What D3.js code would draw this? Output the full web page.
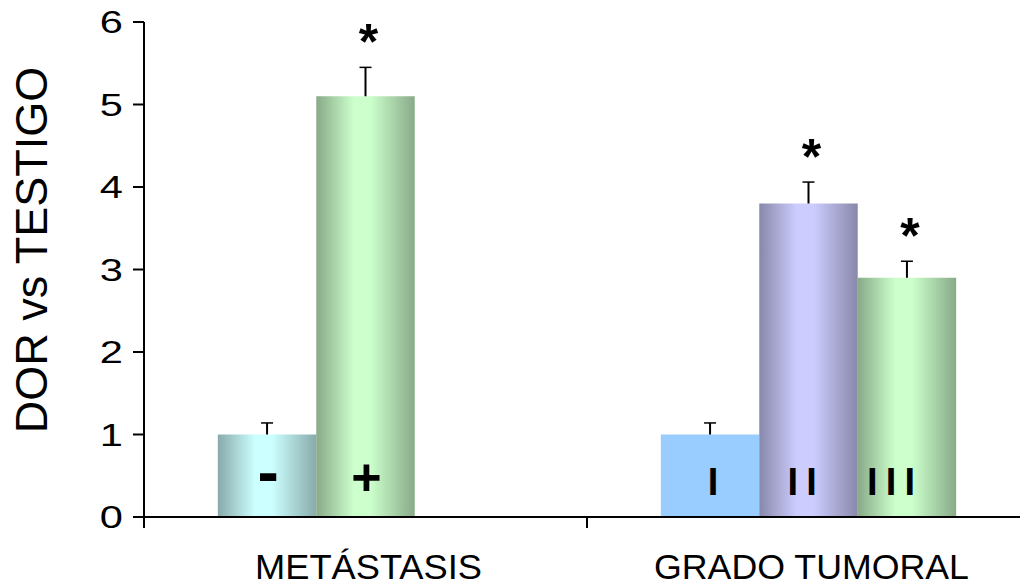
<!DOCTYPE html>
<html><head><meta charset="utf-8">
<script src="https://cdn.jsdelivr.net/npm/d3@7"></script>
<style>body{margin:0;background:#fff}svg{display:block}</style>
</head><body>
<svg id="c" width="1020" height="588"></svg>
<script>
// ---- data ----
const categories = ["METÁSTASIS", "GRADO TUMORAL"];
const slots = ["s1", "s2", "s3"];
const barCategory = ["METÁSTASIS", "METÁSTASIS", "GRADO TUMORAL", "GRADO TUMORAL", "GRADO TUMORAL"];
const barSlot = ["s1", "s2", "s1", "s2", "s3"];
const barLabels = ["-", "+", "I", "II", "III"];
const barValues = [1.0, 5.1, 1.0, 3.8, 2.9];
const barErrors = [0.14, 0.35, 0.14, 0.26, 0.2];
const barSignificant = [false, true, false, true, true];
const barFill = ["cyan", "green", "flat", "lavender", "green"];
const yTicks = [0, 1, 2, 3, 4, 5, 6];
const yTitle = "DOR vs TESTIGO";

const svg = d3.select("#c");
const x0 = d3.scaleBand().domain(categories).range([144, 1030]).paddingInner(0).paddingOuter(0);
const x1 = d3.scaleBand().domain(slots).range([0, x0.bandwidth()]).paddingInner(0).paddingOuter(0.75);
const y = d3.scaleLinear().domain([0, 6]).range([517, 22]);
const FONT = "Liberation Sans, Arial, sans-serif";

// gradients
const defs = svg.append("defs");
const grads = {
  cyan: ["#88aaaa", "#ccffff"],
  green: ["#88aa88", "#ccffcc"],
  lavender: ["#8888aa", "#ccccff"]
};
Object.entries(grads).forEach(([k, [dark, light]]) => {
  const g = defs.append("linearGradient").attr("id", "g-" + k).attr("x1", 0).attr("x2", 1).attr("y1", 0).attr("y2", 0);
  [[0, dark], [0.38, light], [0.55, light], [1, dark]].forEach(([o, c]) =>
    g.append("stop").attr("offset", o).attr("stop-color", c));
});
const fillOf = f => f === "flat" ? "#99ccff" : `url(#g-${f})`;

const bars = barValues.map((v, i) => ({
  v, e: barErrors[i], label: barLabels[i], sig: barSignificant[i], fill: barFill[i],
  x: x0(barCategory[i]) + x1(barSlot[i]), w: x1.bandwidth()
}));

// bars
svg.append("g").selectAll("rect").data(bars).join("rect")
  .attr("x", d => d.x).attr("width", d => d.w)
  .attr("y", d => y(d.v)).attr("height", d => y(0) - y(d.v))
  .attr("fill", d => fillOf(d.fill));

// error bars
const eb = svg.append("g").attr("stroke", "#000").attr("stroke-width", 2);
bars.forEach(d => {
  const cx = d.x + d.w / 2;
  eb.append("line").attr("x1", cx).attr("x2", cx).attr("y1", y(d.v)).attr("y2", y(d.v + d.e));
  eb.append("line").attr("x1", cx - 6).attr("x2", cx + 6).attr("y1", y(d.v + d.e)).attr("y2", y(d.v + d.e)).attr("stroke-width", 1.5);
});

// asterisks
svg.append("g").selectAll("text").data(bars.filter(d => d.sig)).join("text")
  .attr("x", d => d.x + d.w / 2 + 3)
  .attr("y", d => y(d.v + d.e) - 8)
  .attr("text-anchor", "middle")
  .attr("font-family", FONT)
  .attr("font-weight", "bold").attr("font-size", 50)
  .text("*");

// bar labels
const isRoman = s => /I/.test(s);
svg.append("g").selectAll("text").data(bars).join("text")
  .attr("x", d => isRoman(d.label) ? d.x + d.w - 41 : d.x + d.w / 2 + 1)
  .attr("y", d => d.label === "-" ? 494 : 495)
  .attr("text-anchor", d => isRoman(d.label) ? "end" : "middle")
  .attr("font-family", FONT)
  .attr("font-weight", "bold")
  .attr("font-size", d => isRoman(d.label) ? 38 : d.label === "-" ? 64 : 52)
  .attr("letter-spacing", d => d.label.length > 1 ? 8.2 : 0)
  .attr("dx", d => d.label.length > 1 ? 8.2 : 0)
  .text(d => d.label);

// axes
const ax = svg.append("g").attr("stroke", "#000").attr("stroke-width", 2);
ax.append("line").attr("x1", 144).attr("x2", 144).attr("y1", y(6)).attr("y2", 528);
ax.append("line").attr("x1", 133).attr("x2", 1020).attr("y1", y(0)).attr("y2", y(0));
yTicks.forEach(t => {
  ax.append("line").attr("x1", 133).attr("x2", 144).attr("y1", y(t)).attr("y2", y(t));
});
x0.domain().slice(1).forEach(c => {
  const xx = x0(c);
  ax.append("line").attr("x1", xx).attr("x2", xx).attr("y1", y(0)).attr("y2", 528);
});

// y tick labels
svg.append("g").selectAll("text").data(yTicks).join("text")
  .attr("transform", t => `translate(123,${y(t) + 11}) scale(1.3,1)`)
  .attr("text-anchor", "end")
  .attr("font-family", FONT)
  .attr("font-size", 32)
  .text(t => t);

// y title
svg.append("text")
  .attr("transform", `translate(47,250) rotate(-90)`)
  .attr("text-anchor", "middle")
  .attr("font-family", FONT)
  .attr("font-size", 45)
  .text(yTitle);

// category labels
const catW = {"METÁSTASIS": 227, "GRADO TUMORAL": 315};
svg.append("g").selectAll("text").data(categories).join("text")
  .attr("x", c => x0(c) + x0.bandwidth() / 2 + 3 - catW[c] / 2)
  .attr("y", 579)
  .attr("font-family", FONT)
  .attr("font-size", 35)
  .attr("textLength", c => catW[c])
  .attr("lengthAdjust", "spacingAndGlyphs")
  .text(c => c);
</script>
</body></html>
